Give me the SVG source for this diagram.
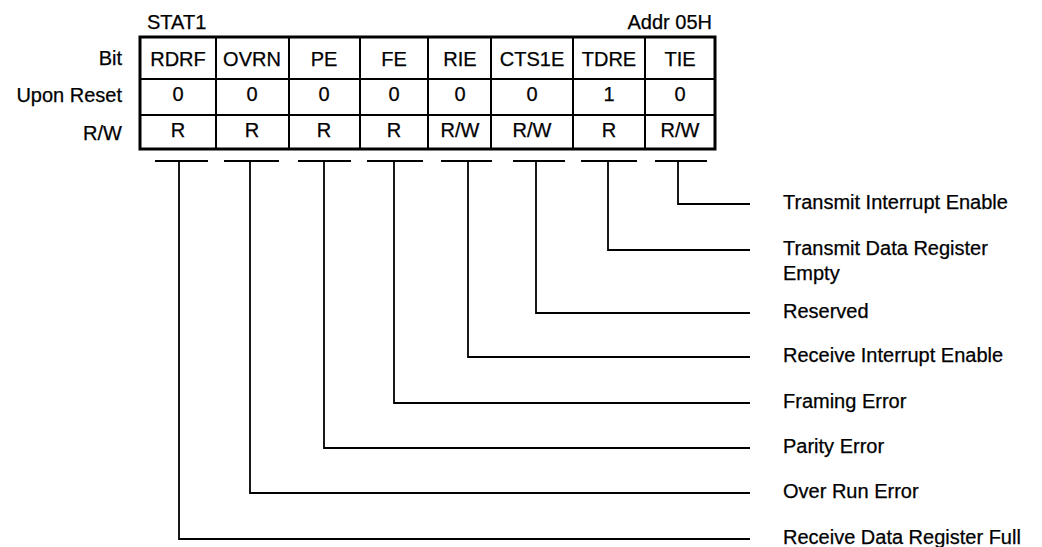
<svg xmlns="http://www.w3.org/2000/svg" width="1042" height="547" viewBox="0 0 1042 547">
<style>
text{font-family:"Liberation Sans",Arial,sans-serif;font-size:20px;fill:#000;stroke:#000;stroke-width:0.25}
.c{text-anchor:middle}
.e{text-anchor:end}
.b{fill:none;stroke:#000;stroke-width:3}
.g{fill:none;stroke:#000;stroke-width:2}
.w{fill:none;stroke:#000;stroke-width:1.8}
</style>
<rect width="1042" height="547" fill="#fff"/>
<g id="title">
<text x="147" y="29">STAT1</text>
<text class="e" x="712" y="29">Addr 05H</text>
</g>
<g id="row-labels">
<text class="e" x="122" y="65">Bit</text>
<text class="e" x="122" y="102">Upon Reset</text>
<text class="e" x="122" y="140">R/W</text>
</g>
<g id="register">
<line class="g" x1="140" y1="79" x2="715" y2="79"/>
<line class="g" x1="140" y1="115" x2="715" y2="115"/>
<line class="g" x1="216" y1="37" x2="216" y2="149"/>
<line class="g" x1="289" y1="37" x2="289" y2="149"/>
<line class="g" x1="360" y1="37" x2="360" y2="149"/>
<line class="g" x1="428" y1="37" x2="428" y2="149"/>
<line class="g" x1="491" y1="37" x2="491" y2="149"/>
<line class="g" x1="573" y1="37" x2="573" y2="149"/>
<line class="g" x1="645" y1="37" x2="645" y2="149"/>
<rect class="b" x="140" y="37" width="575" height="112"/>
</g>
<g id="bit7"><text class="c" x="178" y="66">RDRF</text><text class="c" x="178" y="101">0</text><text class="c" x="178" y="137">R</text></g>
<g id="bit6"><text class="c" x="252" y="66">OVRN</text><text class="c" x="252" y="101">0</text><text class="c" x="252" y="137">R</text></g>
<g id="bit5"><text class="c" x="324" y="66">PE</text><text class="c" x="324" y="101">0</text><text class="c" x="324" y="137">R</text></g>
<g id="bit4"><text class="c" x="394" y="66">FE</text><text class="c" x="394" y="101">0</text><text class="c" x="394" y="137">R</text></g>
<g id="bit3"><text class="c" x="460" y="66">RIE</text><text class="c" x="460" y="101">0</text><text class="c" x="460" y="137">R/W</text></g>
<g id="bit2"><text class="c" x="532" y="66">CTS1E</text><text class="c" x="532" y="101">0</text><text class="c" x="532" y="137">R/W</text></g>
<g id="bit1"><text class="c" x="609" y="66">TDRE</text><text class="c" x="609" y="101">1</text><text class="c" x="609" y="137">R</text></g>
<g id="bit0"><text class="c" x="680" y="66">TIE</text><text class="c" x="680" y="101">0</text><text class="c" x="680" y="137">R/W</text></g>
<g id="connectors">
<line class="g" x1="155" y1="161" x2="208" y2="161"/>
<line class="g" x1="224" y1="161" x2="279" y2="161"/>
<line class="g" x1="298" y1="161" x2="351" y2="161"/>
<line class="g" x1="367" y1="161" x2="423" y2="161"/>
<line class="g" x1="441" y1="161" x2="492" y2="161"/>
<line class="g" x1="513" y1="161" x2="565" y2="161"/>
<line class="g" x1="581" y1="161" x2="637" y2="161"/>
<line class="g" x1="655" y1="161" x2="707" y2="161"/>
<polyline class="w" points="179,161 179,539 750,539"/>
<polyline class="w" points="250,161 250,493 750,493"/>
<polyline class="w" points="324,161 324,448 750,448"/>
<polyline class="w" points="394,161 394,403 750,403"/>
<polyline class="w" points="468,161 468,357 750,357"/>
<polyline class="w" points="536,161 536,313 750,313"/>
<polyline class="w" points="608,161 608,250 750,250"/>
<polyline class="w" points="678,161 678,204 750,204"/>
</g>
<g id="descriptions">
<text x="783" y="209">Transmit Interrupt Enable</text>
<text x="783" y="255">Transmit Data Register</text>
<text x="783" y="280">Empty</text>
<text x="783" y="318">Reserved</text>
<text x="783" y="362">Receive Interrupt Enable</text>
<text x="783" y="408">Framing Error</text>
<text x="783" y="453">Parity Error</text>
<text x="783" y="498">Over Run Error</text>
<text x="783" y="544">Receive Data Register Full</text>
</g>
</svg>
